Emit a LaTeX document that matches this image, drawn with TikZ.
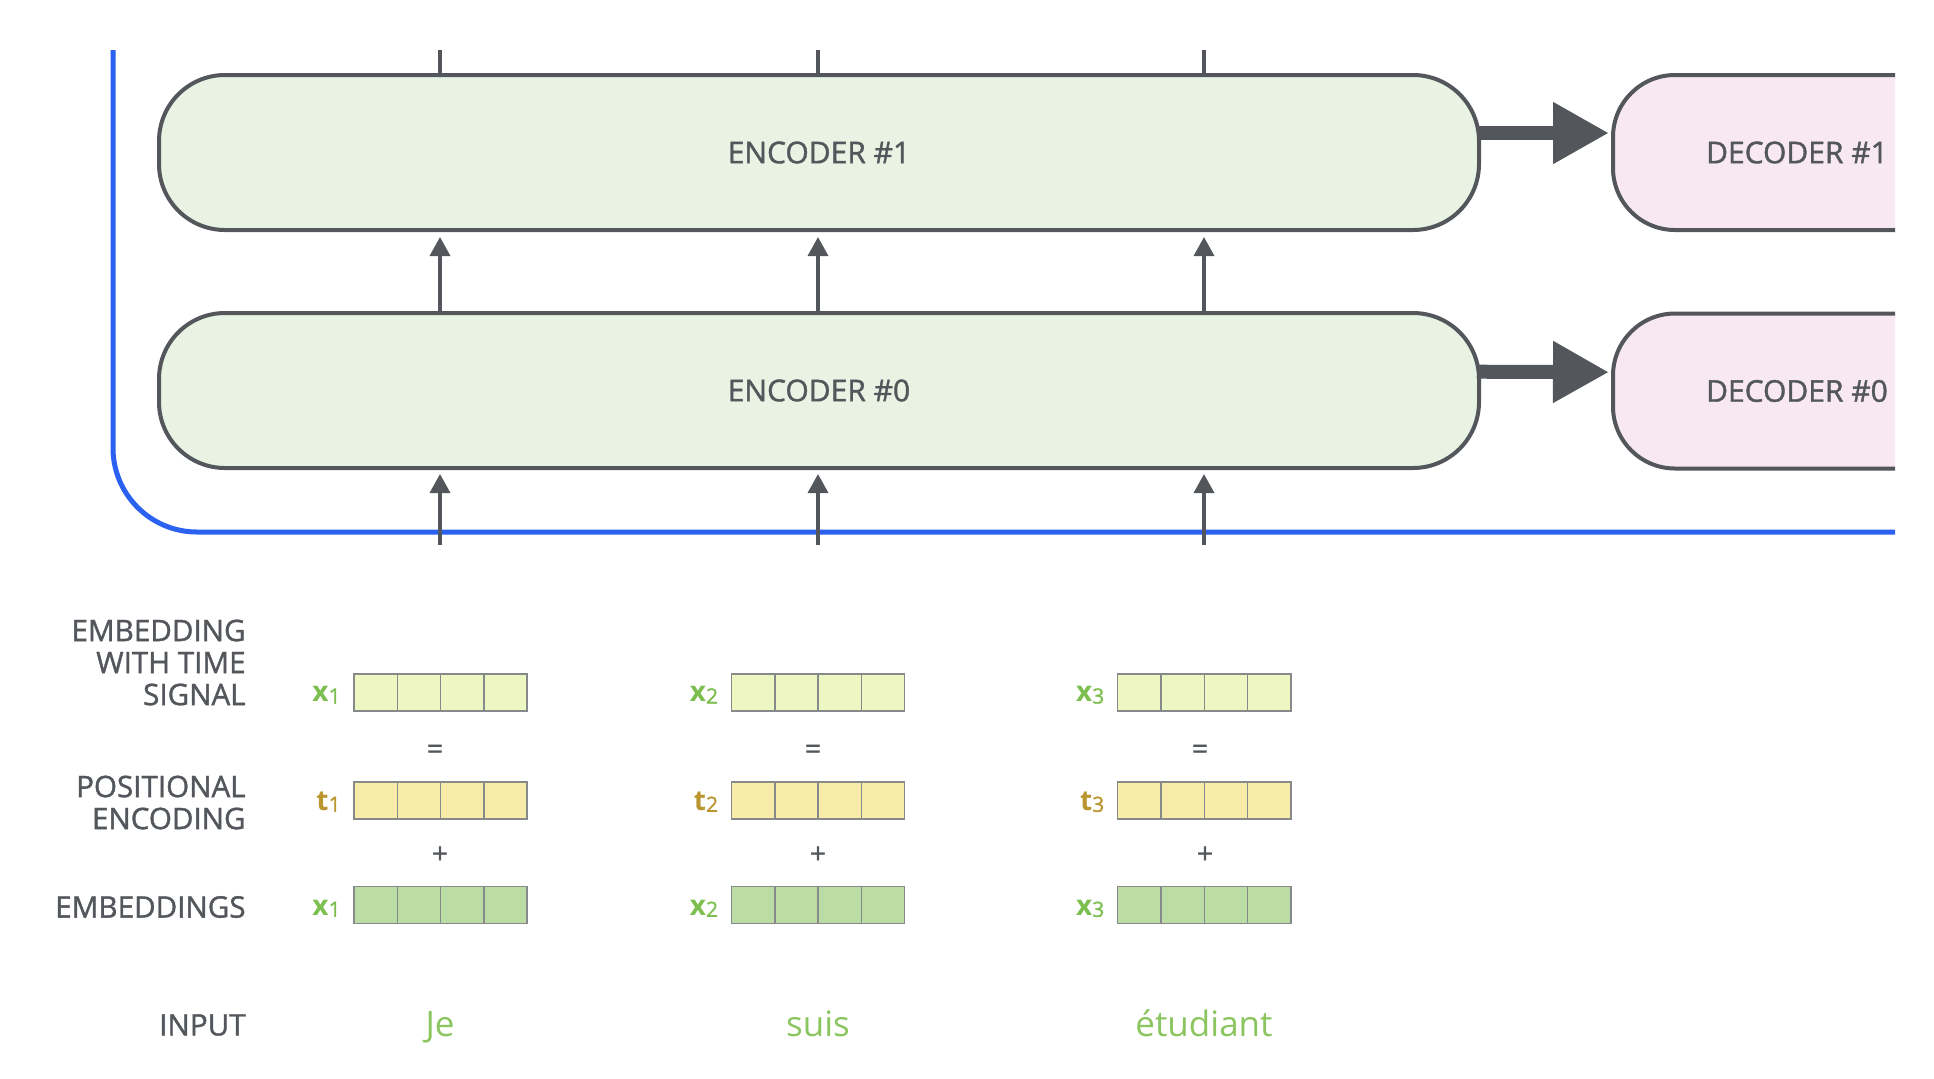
\documentclass[tikz,border=0pt]{standalone}
\usepackage{fontspec}
\setmainfont{Open Sans}
\newfontfamily\semi[FakeBold=1.3]{Open Sans}
\usetikzlibrary{arrows.meta}
\definecolor{dgray}{RGB}{83,87,92}
\definecolor{encfill}{RGB}{233,243,227}
\definecolor{decfill}{RGB}{248,232,242}
\definecolor{bluel}{RGB}{43,97,240}
\definecolor{vtop}{RGB}{238,247,193}
\definecolor{vpos}{RGB}{249,235,168}
\definecolor{vemb}{RGB}{188,220,165}
\definecolor{cellgray}{RGB}{135,138,138}
\definecolor{xgreen}{RGB}{124,190,80}
\definecolor{tgold}{RGB}{186,150,48}
\definecolor{wgreen}{RGB}{138,197,95}
\newcommand\vecrow[4]{%
  \foreach \k in {0,1,2,3} {\node[cell, fill=#4] (#1\k) at ({#2+21.65+43.3*\k},#3) {};}}
\newcommand\sublab[2]{{\bfseries #1}{\semi\fontsize{10.5}{11}\selectfont\raisebox{-0.9pt}{#2}}}
\begin{document}
\begin{tikzpicture}[x=0.5pt,y=-0.5pt,
  encbox/.style={draw=dgray, line width=2pt, fill=encfill, rounded corners=33pt,
    minimum width=660pt, minimum height=77.5pt, inner sep=0pt,
    font=\semi\fontsize{15}{17}\selectfont, text=dgray},
  decbox/.style={encbox, fill=decfill, rounded corners=31pt, minimum width=184pt},
  thinarrow/.style={draw=dgray, line width=1.75pt, -{Triangle[length=9.5pt,width=10pt]}},
  stub/.style={draw=dgray, line width=1.75pt},
  thickarrow/.style={draw=dgray, line width=7pt, -{Triangle[length=28pt,width=29pt]}},
  blueline/.style={draw=bluel, line width=2.5pt, rounded corners=42pt},
  cell/.style={draw=cellgray, line width=0.75pt, minimum width=21.65pt, minimum height=18.5pt, inner sep=0pt},
  lab/.style={text=dgray, font=\semi\fontsize{14.8}{16}\selectfont, inner sep=0pt, align=right, anchor=east},
  xlab/.style={text=xgreen, font=\fontsize{14}{16}\selectfont, inner sep=0pt, anchor=base east},
  tlab/.style={xlab, text=tgold},
  op/.style={text=dgray, font=\semi\fontsize{14}{16}\selectfont, inner sep=0pt},
  inword/.style={text=wgreen, font=\fontsize{17.5}{20}\selectfont, inner sep=0pt, anchor=base}]
\useasboundingbox (0,0) rectangle (1934,1078);

% columns
\coordinate (c1) at (440,0);
\coordinate (c2) at (818,0);
\coordinate (c3) at (1204,0);

\begin{scope}
\clip (0,0) rectangle (1895,1078);
\draw[blueline] (113,50) -- (113,532) -- (1895,532);
\node[decbox] (dec1) at (1797,152.5) {DECODER \#1};
\node[decbox] (dec0) at (1797,391) {DECODER \#0};
\end{scope}

\node[encbox] (enc1) at (819,152.5) {ENCODER \#1};
\node[encbox] (enc0) at (819,390.5) {ENCODER \#0};

% thick arrows encoder -> decoder
\draw[thickarrow, shorten >=1pt] ([yshift=9.75pt,xshift=-2pt]enc1.east) -- ([yshift=9.75pt]dec1.west);
\draw[thickarrow, shorten >=1pt] ([yshift=9.4pt,xshift=-2pt]enc0.east) -- ([yshift=9.4pt]dec0.west);

% top stubs
\coordinate (t1) at (440,50);
\coordinate (t2) at (818,50);
\coordinate (t3) at (1204,50);
\foreach \i in {1,2,3} {\draw[stub] (enc1.north -| c\i) -- (t\i);}

% encoder0 -> encoder1
\foreach \i in {1,2,3} {\draw[thinarrow, shorten >=2.5pt] (enc0.north -| c\i) -- (enc1.south -| c\i);}

% inputs -> encoder0
\coordinate (b1) at (440,545);
\coordinate (b2) at (818,545);
\coordinate (b3) at (1204,545);
\foreach \i in {1,2,3} {\draw[thinarrow, shorten >=2pt] (b\i) -- (enc0.south -| b\i);}

% vectors
\vecrow{ea}{354}{692.3}{vtop}
\vecrow{eb}{731.5}{692.3}{vtop}
\vecrow{ec}{1117.7}{692.3}{vtop}
\vecrow{pa}{354}{800.5}{vpos}
\vecrow{pb}{731.5}{800.5}{vpos}
\vecrow{pc}{1117.7}{800.5}{vpos}
\vecrow{xa}{354}{905}{vemb}
\vecrow{xb}{731.5}{905}{vemb}
\vecrow{xc}{1117.7}{905}{vemb}

% vector labels
\node[xlab] (lea) at (341,701.7) {\sublab{x}{1}};
\node[xlab] (leb) at (718.5,701.7) {\sublab{x}{2}};
\node[xlab] (lec) at (1104.7,701.7) {\sublab{x}{3}};
\node[tlab] (lpa) at (341,810) {\sublab{t}{1}};
\node[tlab] (lpb) at (718.5,810) {\sublab{t}{2}};
\node[tlab] (lpc) at (1104.7,810) {\sublab{t}{3}};
\node[xlab] (lxa) at (341,915) {\sublab{x}{1}};
\node[xlab] (lxb) at (718.5,915) {\sublab{x}{2}};
\node[xlab] (lxc) at (1104.7,915) {\sublab{x}{3}};

% operators
\node[op] (eqa) at (435,751.7) {=};
\node[op] (eqb) at (813,751.7) {=};
\node[op] (eqc) at (1200,751.7) {=};
\node[op] (pla) at (440,855) {+};
\node[op] (plb) at (818,855) {+};
\node[op] (plc) at (1205,855) {+};

% row labels
\node[lab] (l1) at (246,662.5) {EMBEDDING\\WITH TIME\\SIGNAL};
\node[lab] (l2) at (246,802.5) {POSITIONAL\\ENCODING};
\node[lab] (l3) at (246,907) {EMBEDDINGS};
\node[lab] (l4) at (246,1025) {INPUT};

% input words
\node[inword] (wa) at (440,1036) {Je};
\node[inword] (wb) at (818,1036) {suis};
\node[inword] (wc) at (1204,1036) {étudiant};
\end{tikzpicture}
\end{document}
